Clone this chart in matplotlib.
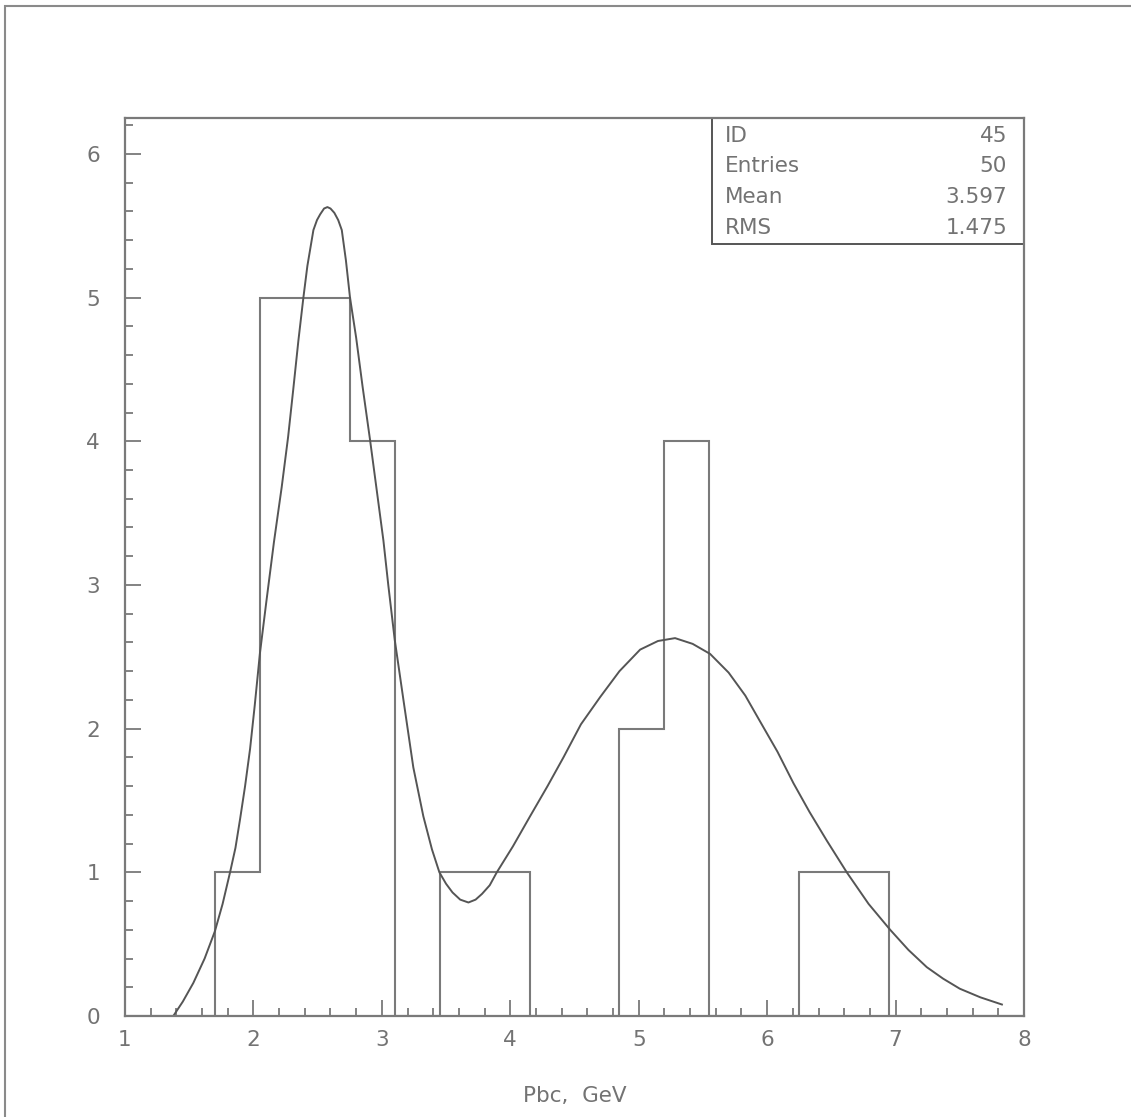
import numpy as np
import matplotlib
matplotlib.use("Agg")
import matplotlib.pyplot as plt
from matplotlib.ticker import MultipleLocator
from matplotlib.patches import Rectangle

# ---- data ----
bin_start = 1.0
bin_width = 0.35
counts = [0, 0, 1, 5, 5, 4, 0, 1, 1, 0, 0, 2, 4, 0, 0, 1, 1, 0, 0, 0]

fit_x = [1.376, 1.45, 1.532, 1.62, 1.70, 1.76, 1.818, 1.86, 1.896, 1.935, 1.974, 2.01,
         2.05, 2.10, 2.16, 2.22, 2.27, 2.31, 2.35, 2.389, 2.42, 2.467, 2.495, 2.52,
         2.55, 2.576, 2.60, 2.63, 2.66, 2.688, 2.72, 2.752, 2.80, 2.85, 2.908, 2.96,
         3.012, 3.05, 3.10, 3.168, 3.245, 3.323, 3.39, 3.448, 3.50, 3.55, 3.61, 3.674,
         3.73, 3.78, 3.84, 3.895, 4.02, 4.154, 4.29, 4.414, 4.55, 4.70, 4.85, 5.011,
         5.15, 5.283, 5.42, 5.556, 5.70, 5.83, 5.945, 6.08, 6.205, 6.33, 6.465, 6.62,
         6.79, 6.958, 7.10, 7.243, 7.37, 7.50, 7.66, 7.828]
fit_y = [0.0, 0.10, 0.23, 0.40, 0.59, 0.78, 1.00, 1.17, 1.37, 1.60, 1.86, 2.16,
         2.52, 2.88, 3.30, 3.68, 4.03, 4.36, 4.70, 5.00, 5.22, 5.47, 5.54, 5.58,
         5.62, 5.63, 5.62, 5.59, 5.54, 5.47, 5.26, 5.00, 4.72, 4.38, 4.01, 3.66,
         3.31, 3.00, 2.62, 2.20, 1.73, 1.39, 1.16, 1.00, 0.92, 0.86, 0.81, 0.79,
         0.81, 0.85, 0.91, 1.00, 1.18, 1.39, 1.60, 1.80, 2.03, 2.22, 2.40, 2.55,
         2.61, 2.63, 2.59, 2.52, 2.39, 2.23, 2.05, 1.84, 1.62, 1.42, 1.22, 1.00,
         0.78, 0.60, 0.46, 0.34, 0.26, 0.19, 0.13, 0.08]

stat_names = ["ID", "Entries", "Mean", "RMS"]
stat_values = ["45", "50", "3.597", "1.475"]
x_label = "Pbc,  GeV"

# ---- figure ----
W, H = 1131, 1117
fig = plt.figure(figsize=(W / 100, H / 100), dpi=100)
plt.rcParams['font.family'] = ['DejaVu Sans']

gray_text = '#737373'
gray_line = '#7a7a7a'
fs = 15.5

# outer frame
fig.patches.append(Rectangle((5 / W, -0.1), 1.2, 1 - 6 / H + 0.1,
                             transform=fig.transFigure, fill=False,
                             edgecolor='#8a8a8a', lw=1.5))

L, R, B, T = 125, 1024, 1016, 118
ax = fig.add_axes([L / W, (H - B) / H, (R - L) / W, (B - T) / H])
ax.set_xlim(1, 8)
ax.set_ylim(0, 6.25)

edges = bin_start + bin_width * np.arange(len(counts) + 1)
ax.stairs(counts, edges, baseline=0, color=gray_line, lw=1.5)
ax.plot(fit_x, fit_y, color='#555555', lw=1.4, solid_joinstyle='round')

for s in ax.spines.values():
    s.set_color(gray_line)
    s.set_linewidth(1.6)

ax.xaxis.set_major_locator(MultipleLocator(1))
ax.xaxis.set_minor_locator(MultipleLocator(0.2))
ax.yaxis.set_major_locator(MultipleLocator(1))
ax.yaxis.set_minor_locator(MultipleLocator(0.2))
ax.tick_params(which='both', direction='in', color=gray_line, width=1.3,
               top=False, right=False, labelcolor=gray_text, labelsize=fs)
ax.tick_params(which='major', length=11.5)
ax.tick_params(which='minor', length=5.8)
ax.tick_params(axis='x', pad=10)
ax.tick_params(axis='y', pad=18)

ax.set_xlabel(x_label, color=gray_text, fontsize=fs, labelpad=26)

# stats box
bx0 = (711.5 - L) / (R - L)
by0 = (B - 244) / (B - T)
ax.add_patch(Rectangle((bx0, by0), 1 - bx0, 1 - by0, transform=ax.transAxes,
                       fill=False, edgecolor='#555555', lw=1.4, clip_on=False))
row_px = [136, 166, 197, 228]
for name, val, py in zip(stat_names, stat_values, row_px):
    yy = (B - py) / (B - T)
    ax.text((725 - L) / (R - L), yy, name, transform=ax.transAxes,
            ha='left', va='center', color=gray_text, fontsize=fs)
    ax.text((1007 - L) / (R - L), yy, val, transform=ax.transAxes,
            ha='right', va='center', color=gray_text, fontsize=fs)

fig.savefig("out.png", dpi=100, facecolor='white')
